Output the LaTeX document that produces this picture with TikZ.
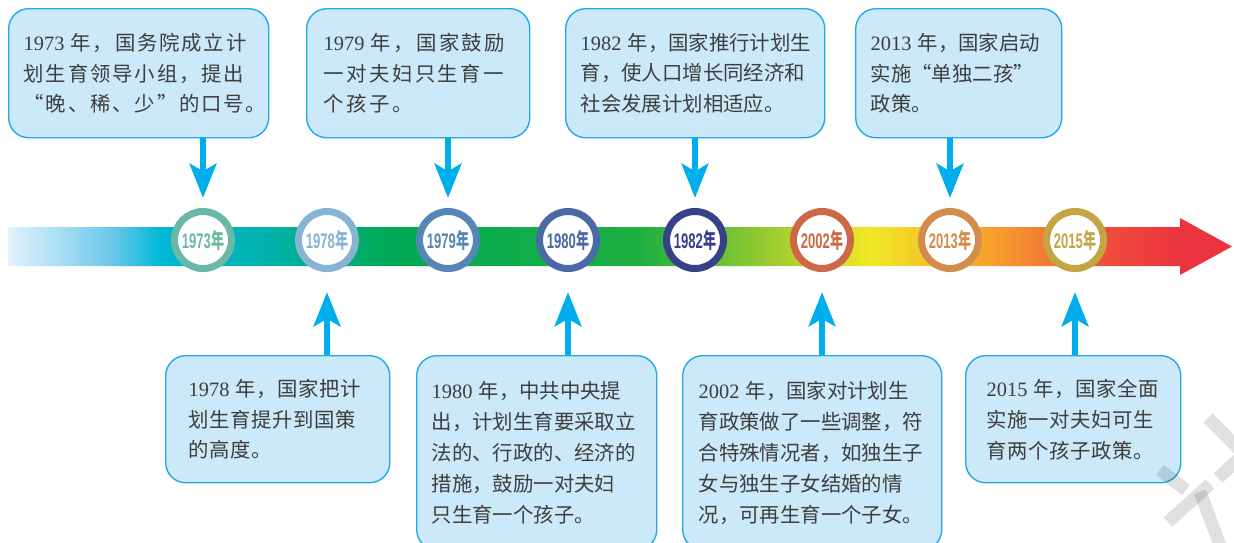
\documentclass[tikz,border=0pt]{standalone}
\usepackage{fontspec}
\usepackage{graphicx}
\setmainfont{Liberation Serif}
\newfontfamily\cjk{Noto Sans CJK SC}
\newfontfamily\yearfont{Liberation Sans}
\usetikzlibrary{arrows.meta, shadows}

\definecolor{boxfill}{RGB}{203,233,249}
\definecolor{boxline}{RGB}{35,170,230}
\definecolor{pointercol}{RGB}{0,174,235}
\definecolor{txt}{RGB}{62,62,62}
\definecolor{ring1973}{RGB}{108,184,166}
\definecolor{ring1978}{RGB}{135,180,210}
\definecolor{ring1979}{RGB}{85,135,180}
\definecolor{ring1980}{RGB}{75,105,165}
\definecolor{ring1982}{RGB}{55,65,135}
\definecolor{ring2002}{RGB}{205,105,70}
\definecolor{ring2013}{RGB}{210,140,75}
\definecolor{ring2015}{RGB}{195,165,70}
\definecolor{bandA}{RGB}{226,243,252}
\definecolor{bandB}{RGB}{110,200,235}
\definecolor{bandC}{RGB}{0,184,214}
\definecolor{bandD}{RGB}{0,178,170}
\definecolor{bandE}{RGB}{0,170,85}
\definecolor{bandF}{RGB}{30,175,65}
\definecolor{bandG}{RGB}{175,208,45}
\definecolor{bandH}{RGB}{242,232,38}
\definecolor{bandI}{RGB}{246,155,45}
\definecolor{bandJ}{RGB}{238,75,60}
\definecolor{bandK}{RGB}{236,52,62}

\pgfdeclarehorizontalshading{bandshade}{100bp}{color(0bp)=(bandA); color(25bp)=(bandA);
  color(29.17bp)=(bandB); color(31.21bp)=(bandC); color(35.70bp)=(bandD); color(40.60bp)=(bandE);
  color(50.82bp)=(bandF); color(56.95bp)=(bandG); color(60.21bp)=(bandH); color(65.52bp)=(bandI);
  color(70.02bp)=(bandJ); color(72.88bp)=(bandK); color(75bp)=(bandK); color(100bp)=(bandK)}

\newcommand\yr[1]{{\rmfamily #1}\kern0.3em}
\newcommand\yearlabel[1]{\scalebox{0.62}[1]{\fontsize{15}{15}\yearfont\bfseries #1\cjk\bfseries 年}}

\tikzset{
  infobox/.style={draw=boxline, fill=boxfill, line width=1pt, rounded corners=0.5cm, text=txt,
    align=left, anchor=north west, inner sep=0pt,
    font=\fontsize{14.5}{22}\cjk\addfontfeatures{LetterSpace=#1}},
  infobox/.default=0,
  yearring/.style={circle, draw=#1, fill=white, text=#1, line width=0.175cm, minimum size=1.425cm,
    inner sep=0pt, drop shadow={shadow xshift=0pt, shadow yshift=-2.5pt, opacity=0.4}},
  downpointer/.style={draw=pointercol, line width=0.17cm,
    -{Stealth[length=0.85cm, width=0.66cm, inset=0.18cm]}, shorten >=0.25cm},
  uppointer/.style={downpointer, shorten >=0.5cm}
}

\begin{document}
\begin{tikzpicture}[x=0.025cm, y=-0.025cm]
\useasboundingbox (0,0) rectangle (1234,542);
\clip (0,0) rectangle (1234,542);

% time band
\path[shading=bandshade] (8,227) -- (1180,227) -- (1180,218) -- (1232,246.5) -- (1180,275) -- (1180,266) -- (8,266) -- cycle;

% years on the band
\node[yearring=ring1973] (c1973) at (203,240) {\yearlabel{1973}};
\node[yearring=ring1978] (c1978) at (327,240) {\yearlabel{1978}};
\node[yearring=ring1979] (c1979) at (448,240) {\yearlabel{1979}};
\node[yearring=ring1980] (c1980) at (568,240) {\yearlabel{1980}};
\node[yearring=ring1982] (c1982) at (695,240) {\yearlabel{1982}};
\node[yearring=ring2002] (c2002) at (822,240) {\yearlabel{2002}};
\node[yearring=ring2013] (c2013) at (950,240) {\yearlabel{2013}};
\node[yearring=ring2015] (c2015) at (1075,240) {\yearlabel{2015}};

% upper boxes
\node[infobox=9, text width=5.75cm, minimum width=6.5cm, minimum height=3.225cm] (b1973) at (8,8)
  {\yr{1973}年，国务院成立计\\划生育领导小组，提出\\“晚、稀、少”的口号。};
\node[infobox=12, text width=4.725cm, minimum width=5.575cm, minimum height=3.225cm] (b1979) at (306,8)
  {\yr{1979}年，国家鼓励\\一对夫妇只生育一\\个孩子。};
\node[infobox, text width=5.725cm, minimum width=6.475cm, minimum height=3.225cm] (b1982) at (565,8)
  {\yr{1982}年，国家推行计划生\\育，使人口增长同经济和\\社会发展计划相适应。};
\node[infobox, text width=4.4cm, minimum width=5.15cm, minimum height=3.225cm] (b2013) at (855,8)
  {\yr{2013}年，国家启动\\实施“单独二孩”\\政策。};

% lower boxes
\node[infobox=3, text width=4.45cm, minimum width=5.6cm, minimum height=3.175cm] (b1978) at (165,355)
  {\yr{1978}年，国家把计\\划生育提升到国策\\的高度。};
\node[infobox, text width=5.25cm, minimum width=6cm, minimum height=4.85cm] (b1980) at (416,355)
  {\yr{1980}年，中共中央提\\出，计划生育要采取立\\法的、行政的、经济的\\措施，鼓励一对夫妇\\只生育一个孩子。};
\node[infobox, text width=5.675cm, minimum width=6.475cm, minimum height=4.85cm] (b2002) at (682,355)
  {\yr{2002}年，国家对计划生\\育政策做了一些调整，符\\合特殊情况者，如独生子\\女与独生子女结婚的情\\况，可再生育一个子女。};
\node[infobox=3, text width=4.325cm, minimum width=5.375cm, minimum height=3.175cm] (b2015) at (965,355)
  {\yr{2015}年，国家全面\\实施一对夫妇可生\\育两个孩子政策。};

% pointers
\draw[downpointer] (b1973.south -| c1973) -- (c1973.north);
\draw[downpointer] (b1979.south -| c1979) -- (c1979.north);
\draw[downpointer] (b1982.south -| c1982) -- (c1982.north);
\draw[downpointer] (b2013.south -| c2013) -- (c2013.north);
\draw[uppointer] (b1978.north -| c1978) -- (c1978.south);
\draw[uppointer] (b1980.north -| c1980) -- (c1980.south);
\draw[uppointer] (b2002.north -| c2002) -- (c2002.south);
\draw[uppointer] (b2015.north -| c2015) -- (c2015.south);

% watermark strokes
\begin{scope}[draw=black, opacity=0.12, line width=0.32cm]
\draw (1208,418) -- (1240,450);
\draw (1160,470) -- (1186,490);
\draw (1168,522) -- (1210,484);
\draw (1200,492) -- (1220,545);
\draw (1218,478) -- (1240,458);
\end{scope}
\end{tikzpicture}
\end{document}
